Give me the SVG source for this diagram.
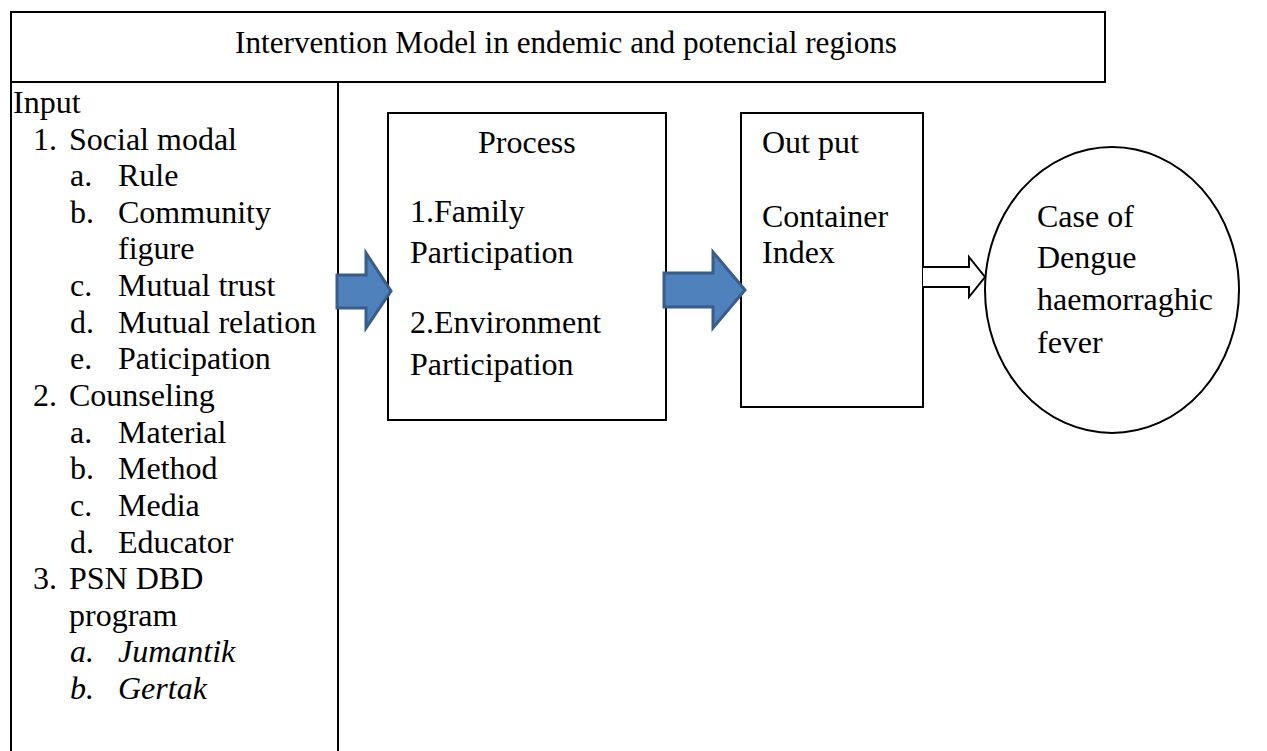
<svg xmlns="http://www.w3.org/2000/svg" width="1267" height="751" viewBox="0 0 1267 751">
<style>
text{font-family:'Liberation Serif','Times New Roman',serif;font-size:32px;fill:#000}
.it{font-style:italic}
.box{fill:#fff;stroke:#000;stroke-width:2}
.ln{stroke:#000;stroke-width:2;fill:none}
.blue{fill:#4F81BD;stroke:#385D8A;stroke-width:3;stroke-linejoin:miter}
.wa{fill:#fff;stroke:#000;stroke-width:2}
</style>
<rect width="1267" height="751" fill="#fff"/>
<g id="title">
<rect class="box" x="11" y="12" width="1094" height="70"/>
<text x="566" y="53" text-anchor="middle" textLength="662" lengthAdjust="spacingAndGlyphs">Intervention Model in endemic and potencial regions</text>
</g>
<g id="input">
<line class="ln" x1="11" y1="82" x2="11" y2="751"/>
<line class="ln" x1="338" y1="82" x2="338" y2="751"/>
<text x="13" y="113">Input</text>
<text x="33" y="150">1.</text><text x="69" y="150">Social modal</text>
<text x="70" y="186">a.</text><text x="118" y="186">Rule</text>
<text x="70" y="223">b.</text><text x="118" y="223">Community</text>
<text x="118" y="259">figure</text>
<text x="70" y="296">c.</text><text x="118" y="296">Mutual trust</text>
<text x="70" y="333">d.</text><text x="118" y="333">Mutual relation</text>
<text x="70" y="369">e.</text><text x="118" y="369">Paticipation</text>
<text x="33" y="406">2.</text><text x="69" y="406">Counseling</text>
<text x="70" y="443">a.</text><text x="118" y="443">Material</text>
<text x="70" y="479">b.</text><text x="118" y="479">Method</text>
<text x="70" y="516">c.</text><text x="118" y="516">Media</text>
<text x="70" y="553">d.</text><text x="118" y="553">Educator</text>
<text x="33" y="589">3.</text><text x="69" y="589">PSN DBD</text>
<text x="69" y="626">program</text>
<text class="it" x="70" y="662">a.</text><text class="it" x="118" y="662">Jumantik</text>
<text class="it" x="70" y="699">b.</text><text class="it" x="118" y="699">Gertak</text>
</g>
<g id="process">
<rect class="box" x="388" y="113" width="278" height="307"/>
<text x="478" y="153">Process</text>
<text x="410" y="222">1.Family</text>
<text x="410" y="263">Participation</text>
<text x="410" y="333">2.Environment</text>
<text x="410" y="375">Participation</text>
</g>
<g id="output">
<rect class="box" x="741" y="113" width="182" height="294"/>
<text x="762" y="153">Out put</text>
<text x="762" y="227">Container</text>
<text x="762" y="263">Index</text>
</g>
<g id="outcome">
<ellipse class="box" cx="1112" cy="290" rx="127" ry="143"/>
<text x="1037" y="227">Case of</text>
<text x="1037" y="268">Dengue</text>
<text x="1037" y="310">haemorraghic</text>
<text x="1037" y="353">fever</text>
</g>
<g id="connectors">
<path class="blue" d="M337,275 H366 V253 L391,291 L366,328 V308 H337 Z"/>
<path class="blue" d="M664,273 H713 V252 L745,290 L713,328 V307 H664 Z"/>
<path class="wa" d="M923,267 H969 V257 L985,277 L969,297 V287 H923"/>
</g>
</svg>
